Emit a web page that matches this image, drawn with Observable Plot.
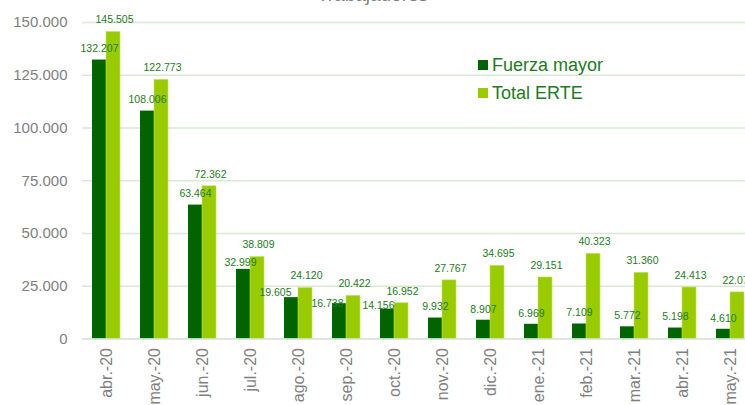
<!DOCTYPE html>
<html><head><meta charset="utf-8">
<script src="https://cdn.jsdelivr.net/npm/d3@7"></script>
<script src="https://cdn.jsdelivr.net/npm/@observablehq/plot@0.6"></script>
<style>
body{margin:0;overflow:hidden;background:#fff;font-family:"Liberation Sans",Arial,sans-serif;}
#wrap{position:relative;width:745px;height:405px;overflow:hidden;}
#title{position:absolute;top:-15px;left:0;width:745px;text-align:center;font-size:19px;line-height:19px;color:#7f7f7f;}
.leg{position:absolute;left:478px;font-size:18px;line-height:18px;color:#1e7b1e;white-space:nowrap;}
.leg span{display:inline-block;width:10px;height:10px;margin-right:4px;vertical-align:1px;}
</style></head>
<body>
<div id="wrap">
<div id="chart"></div>
<div id="title">Trabajadores</div>
<div class="leg" style="top:56px"><span style="background:#006400"></span>Fuerza mayor</div>
<div class="leg" style="top:84px"><span style="background:#99cc00"></span>Total ERTE</div>
</div>
<script>
const months = ["abr.-20","may.-20","jun.-20","jul.-20","ago.-20","sep.-20","oct.-20","nov.-20","dic.-20","ene.-21","feb.-21","mar.-21","abr.-21","may.-21"];
const fuerzaMayor = [132207,108006,63464,32999,19605,16738,14156,9932,8907,6969,7109,5772,5198,4610];
const totalERTE = [145505,122773,72362,38809,24120,20422,16952,27767,34695,29151,40323,31360,24413,22075];
const yTicks = [0,25000,50000,75000,100000,125000,150000];

const fmt = d3.formatLocale({decimal:",", thousands:".", grouping:[3], currency:["","€"]}).format(",");
const dark = months.map((m,i)=>({month:m, value:fuerzaMayor[i]}));
const light = months.map((m,i)=>({month:m, value:totalERTE[i]}));
const labelColor = "#1e7b1e";
const labelFont = 10.5;

// label nudges (as placed in the original chart to avoid collisions)
const nudges = {"jul.-20":[-10,-7], "ago.-20":[-23,-5], "sep.-20":[-19,0], "oct.-20":[-16,-4]};
const darkDefault = dark.filter(d => !(d.month in nudges));
const darkNudged = Object.entries(nudges).map(([m,[dx,dy]]) =>
  Plot.text(dark.filter(d => d.month === m), {x:"month", y:"value", text:d=>fmt(d.value), dx, dy, fill:labelColor, fontSize:labelFont}));

const chart = Plot.plot({
  width:745, height:405,
  marginTop:22, marginBottom:66.5, marginLeft:82, marginRight:0,
  style:{fontFamily:"'Liberation Sans', Arial, sans-serif", color:"#7f7f7f", background:"#fff"},
  x:{domain:months, range:[82,754], padding:0, label:null},
  y:{domain:[0,150000], label:null},
  marks:[
    Plot.gridY(yTicks.slice(1), {stroke:"#d9ead3", strokeOpacity:1, strokeWidth:1.5}),
    Plot.axisY({ticks:yTicks, tickSize:0, tickPadding:15, tickFormat:fmt, fontSize:15, fill:"#7f7f7f", label:null}),
    Plot.axisX({tickRotate:-90, tickSize:0, tickPadding:9, fontSize:16, fill:"#7f7f7f", label:null}),
    Plot.barY(dark, {x:"month", y:"value", fill:"#006400", insetLeft:10, insetRight:24}),
    Plot.barY(light, {x:"month", y:"value", fill:"#99cc00", stroke:"#c2e05a", strokeWidth:0.6, insetLeft:24, insetRight:10}),
    Plot.ruleY([0], {stroke:"#cfe2c8", strokeWidth:1.5}),
    Plot.text(darkDefault, {x:"month", y:"value", text:d=>fmt(d.value), dx:-7, dy:-11, fill:labelColor, fontSize:labelFont}),
    ...darkNudged,
    Plot.text(light, {x:"month", y:"value", text:d=>fmt(d.value), dx:8, dy:-12, fill:labelColor, fontSize:labelFont})
  ]
});
document.getElementById("chart").appendChild(chart);
</script>
</body></html>
